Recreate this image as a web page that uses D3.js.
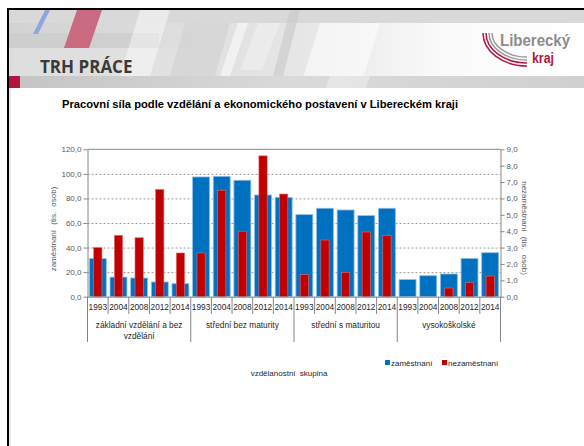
<!DOCTYPE html>
<html><head><meta charset="utf-8">
<script src="https://cdn.jsdelivr.net/npm/d3@7"></script>
<style>
html,body{margin:0;padding:0;background:#fff;}
svg{display:block;}
text{font-family:"Liberation Sans",Arial,sans-serif;}
</style></head>
<body>
<script>
// ---- data ----
const groups = ["základní vzdělání a bez|vzdělání", "střední bez maturity", "střední s maturitou", "vysokoškolské"];
const years = ["1993", "2004", "2008", "2012", "2014"];
// zaměstnaní (tis. osob) – left axis, per group in years order
const employed = [
  31.0, 16.0, 15.2, 12.0, 10.6,
  97.5, 98.0, 94.8, 82.8, 80.9,
  66.8, 72.0, 70.6, 66.0, 72.0,
  13.9, 17.1, 18.5, 31.2, 35.8
];
// nezaměstnaní (tis. osob) – right axis
const unemployed = [
  3.00, 3.75, 3.60, 6.55, 2.67,
  2.67, 6.50, 4.00, 8.60, 6.27,
  1.35, 3.46, 1.49, 3.95, 3.73,
  0, 0, 0.53, 0.86, 1.26
];
const leftTicks = [0, 20, 40, 60, 80, 100, 120];
const rightTicks = [0, 1, 2, 3, 4, 5, 6, 7, 8, 9];
const seriesNames = ["zaměstnaní", "nezaměstnaní"];
const colors = ["#0070c0", "#c00000"];

const W = 584, H = 446;
const svg = d3.select("body").append("svg").attr("width", W).attr("height", H);

// ---- slide frame / header ----
const defs = svg.append("defs");
const g1 = defs.append("linearGradient").attr("id", "hdr").attr("x1", "0").attr("x2", "1");
g1.append("stop").attr("offset", "0").attr("stop-color", "#d2d2d2");
g1.append("stop").attr("offset", "0.55").attr("stop-color", "#e8e8e8");
g1.append("stop").attr("offset", "0.75").attr("stop-color", "#fafafa");
g1.append("stop").attr("offset", "1").attr("stop-color", "#ffffff");
const g2 = defs.append("linearGradient").attr("id", "band").attr("x1", "0").attr("x2", "1");
g2.append("stop").attr("offset", "0").attr("stop-color", "#c4c4c4");
g2.append("stop").attr("offset", "0.5").attr("stop-color", "#dadada");
g2.append("stop").attr("offset", "1").attr("stop-color", "#d0d0d0");

const hdr = svg.append("g");
hdr.append("rect").attr("x", 9).attr("y", 10).attr("width", W - 9).attr("height", 78).attr("fill", "url(#hdr)");
hdr.append("rect").attr("x", 9).attr("y", 10).attr("width", W - 9).attr("height", 13).attr("fill", "#d9d9d9");
hdr.append("rect").attr("x", 9).attr("y", 33).attr("width", 150).attr("height", 15).attr("fill", "#cdcdcd").attr("opacity", 0.8);
hdr.append("rect").attr("x", 9).attr("y", 48).attr("width", 250).attr("height", 28).attr("fill", "#e2e2e2").attr("opacity", 0.7);
const para = (pts, fill, op) => hdr.append("polygon").attr("points", pts.map(p => p.join(",")).join(" ")).attr("fill", fill).attr("opacity", op);
para([[140,10],[170,10],[150,76],[120,76]], "#ffffff", 0.45);
para([[185,23],[230,23],[215,76],[170,76]], "#d0d0d0", 0.6);
para([[238,23],[248,23],[230,76],[220,76]], "#f5f5f5", 0.8);
para([[258,23],[280,23],[262,70],[240,70]], "#ffffff", 0.3);
para([[290,10],[300,10],[283,76],[273,76]], "#c8c8c8", 0.6);
para([[320,23],[380,23],[360,88],[300,88]], "#ffffff", 0.55);
para([[45,10],[50,10],[38,34],[33,34]], "#8ea6e0", 1);
para([[77,10],[102,10],[89,48],[64,48]], "#c96a80", 1);
hdr.append("rect").attr("x", 9).attr("y", 76).attr("width", W - 9).attr("height", 12).attr("fill", "url(#band)");
para([[330,76],[370,76],[366,88],[326,88]], "#ffffff", 0.35);
hdr.append("rect").attr("x", 9).attr("y", 76).attr("width", 11).attr("height", 12).attr("fill", "#b3153f");
hdr.append("text").attr("x", 40).attr("y", 73).text("TRH PRÁCE")
  .style("font-family", "'Open Sans',sans-serif").style("font-weight", 700).style("font-size", "17px").attr("fill", "#3a3a3a");

// logo
const logo = svg.append("g");
[["#b3153f", 0], ["#b3153f", 1], ["#9a9a9a", 2], ["#9a9a9a", 3]].forEach(([c, i]) => {
  const sx = 483 + 3 * i, ex = 527, ey = 66 - 3 * i;
  logo.append("path").attr("d", `M${sx},33 A${ex - sx},${ey - 33} 0 0 0 ${ex},${ey}`)
    .attr("fill", "none").attr("stroke", c).attr("stroke-width", 1.5);
});
logo.append("text").attr("x", 500).attr("y", 46).text("Liberecký").attr("textLength", 70).attr("lengthAdjust", "spacingAndGlyphs")
  .style("font-weight", 700).style("font-size", "16px").attr("fill", "#8c8c8c");
logo.append("text").attr("x", 532).attr("y", 63).text("kraj").attr("textLength", 22).attr("lengthAdjust", "spacingAndGlyphs")
  .style("font-weight", 700).style("font-size", "15px").attr("fill", "#b3153f");

// frame borders
svg.append("rect").attr("x", 7).attr("y", 8).attr("width", W).attr("height", 2).attr("fill", "#000");
svg.append("rect").attr("x", 7).attr("y", 8).attr("width", 2).attr("height", H).attr("fill", "#000");
svg.append("rect").attr("x", 9.5).attr("y", 88).attr("width", 1).attr("height", H).attr("fill", "#d0d0d0");

// ---- chart ----
svg.append("text").attr("x", 62).attr("y", 108).text("Pracovní síla podle vzdělání a ekonomického postavení v Libereckém kraji")
  .style("font-weight", 700).style("font-size", "11.2px").attr("fill", "#000");

const x0 = 87.5, x1 = 500.5, yTop = 149.3, yBot = 296.7;
const n = employed.length;
const xs = d3.scaleBand().domain(d3.range(n)).range([x0, x1]).padding(0);
const yL = d3.scaleLinear().domain([0, 120]).range([yBot, yTop]);
const yR = d3.scaleLinear().domain([0, 9]).range([yBot, yTop]);
const fmt = d => d.toFixed(1).replace(".", ",");
const axCol = "#868686", txtCol = "#595959";

// gridlines
svg.append("g").selectAll("line").data(leftTicks.filter(t => t > 0 && t < 120)).join("line")
  .attr("x1", x0).attr("x2", x1).attr("y1", d => yL(d) + 0.5).attr("y2", d => yL(d) + 0.5)
  .attr("stroke", "#7f7f7f").attr("stroke-width", 0.8).attr("stroke-dasharray", "2,2");
svg.append("line").attr("x1", x0).attr("x2", x1).attr("y1", yL(120)).attr("y2", yL(120)).attr("stroke", axCol);

// bars
const bw = xs.bandwidth();
svg.append("g").selectAll("rect").data(employed).join("rect")
  .attr("x", (d, i) => xs(i) + bw * 0.09).attr("width", bw * 0.82)
  .attr("y", d => yL(d)).attr("height", d => yBot - yL(d))
  .attr("fill", colors[0]).attr("stroke", "#8fbfe6").attr("stroke-width", 0.8);
const redData = unemployed.map((v, i) => ({ v, i })).filter(d => d.v > 0);
svg.append("g").selectAll("rect").data(redData).join("rect")
  .attr("x", d => xs(d.i) + bw * 0.3).attr("width", bw * 0.4)
  .attr("y", d => yR(d.v)).attr("height", d => yBot - yR(d.v))
  .attr("fill", colors[1]).attr("stroke", "#e07070").attr("stroke-width", 0.6);

// axes
const axL = svg.append("g").attr("transform", `translate(${x0},0)`)
  .call(d3.axisLeft(yL).tickValues(leftTicks).tickFormat(fmt).tickSize(4).tickSizeOuter(0));
const axR = svg.append("g").attr("transform", `translate(${x1},0)`)
  .call(d3.axisRight(yR).tickValues(rightTicks).tickFormat(fmt).tickSize(4).tickSizeOuter(0));
[axL, axR].forEach(a => {
  a.select(".domain").attr("stroke", axCol);
  a.selectAll(".tick line").attr("stroke", axCol);
  a.selectAll("text").attr("fill", txtCol).style("font-size", "8px").style("font-family", "'Liberation Sans',Arial,sans-serif");
});
axL.selectAll("text").attr("x", -6);
axR.selectAll("text").attr("x", 6);

// x axis line
svg.append("line").attr("x1", x0).attr("x2", x1).attr("y1", yBot + 0.5).attr("y2", yBot + 0.5).attr("stroke", axCol);
// separators
svg.append("g").selectAll("line").data(d3.range(n + 1)).join("line")
  .attr("x1", i => (i < n ? xs(i) : x1)).attr("x2", i => (i < n ? xs(i) : x1))
  .attr("y1", yBot).attr("y2", i => (i % years.length === 0 ? 342 : 314))
  .attr("stroke", axCol).attr("stroke-width", 1);
// year labels
svg.append("g").selectAll("text").data(d3.range(n)).join("text")
  .attr("x", i => xs(i) + bw / 2).attr("y", 310).attr("text-anchor", "middle")
  .text(i => years[i % years.length]).style("font-size", "8.3px").attr("fill", "#262626");
// group labels
groups.forEach((g, gi) => {
  const a = gi * years.length, b = a + years.length;
  const cx = (xs(a) + (b < n ? xs(b) : x1)) / 2;
  g.split("|").forEach((line, li) => {
    svg.append("text").attr("x", cx).attr("y", 328 + li * 11).attr("text-anchor", "middle")
      .text(line).style("font-size", "8.3px").attr("fill", "#262626");
  });
});

// axis titles
svg.append("text").attr("transform", "translate(56,229) rotate(-90)").attr("text-anchor", "middle")
  .text("zaměstnaní (tis. osob)").style("font-size", "8px").style("word-spacing", "3px").attr("fill", txtCol);
svg.append("text").attr("transform", "translate(522,228) rotate(90)").attr("text-anchor", "middle")
  .text("nezaměstnaní (tis. osob)").style("font-size", "8px").style("word-spacing", "3px").attr("fill", txtCol);
svg.append("text").attr("x", 289).attr("y", 376).attr("text-anchor", "middle")
  .text("vzdělanostní skupina").style("font-size", "8px").style("word-spacing", "2px").attr("fill", "#262626");

// legend
const legX = [385, 442];
seriesNames.forEach((s, i) => {
  svg.append("rect").attr("x", legX[i]).attr("y", 360).attr("width", 5).attr("height", 5).attr("fill", colors[i]);
  svg.append("text").attr("x", legX[i] + 6).attr("y", 366).text(s).style("font-size", "8px").attr("fill", "#262626");
});
</script>
</body></html>
